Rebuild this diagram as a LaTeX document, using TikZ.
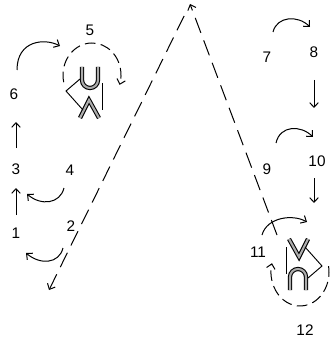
\documentclass[tikz,border=0pt]{standalone}
\usepackage{fontspec}
\setmainfont{Liberation Sans}
\usetikzlibrary{arrows.meta}

\tikzset{
  num/.style={font=\fontsize{11.5}{13}\selectfont, inner sep=0pt},
  arr/.style={line width=0.75pt, -{Straight Barb[length=3.5pt, width=6.5pt]}},
  longdash/.style={arr, dash pattern=on 12pt off 6pt},
  ring/.style={arr, dash pattern=on 8pt off 4pt},
  letterstroke/.style={draw=black, line width=0.8pt, double=gray!65, double distance=1.6pt},
  glyph/.pic={
    \draw[letterstroke] (-8,-25) -- (-8,-12) arc[start angle=180, end angle=0, radius=8] -- (8,-25);
    \draw[letterstroke] (-10,26) -- (-1,8) -- (9,26);
    \draw[line width=0.7pt] (12,-9) -- (12,18);
    \draw[line width=0.7pt] (-10,-13) -- (-24,-1) -- (-7,18);
  }
}

\begin{document}
\begin{tikzpicture}[x=0.75pt, y=-0.75pt]
\useasboundingbox (0,0) rectangle (333,342);

% numbers
\node[num] (n1) at (16,233) {1};
\node[num] (n2) at (71,226) {2};
\node[num] (n3) at (16,169) {3};
\node[num] (n4) at (70,170) {4};
\node[num] (n5) at (90,30) {5};
\node[num] (n6) at (14,94) {6};
\node[num] (n7) at (267,57) {7};
\node[num] (n8) at (314,52) {8};
\node[num] (n9) at (267,169) {9};
\node[num] (n10) at (317,161) {10};
\node[num] (n11) at (258,252) {11};
\node[num] (n12) at (305,330) {12};

% glyphs
\pic at (90,92) {glyph};
\pic[rotate=180] at (298,265) {glyph};

% left column
\draw[arr] ([shift={(0,-18)}]n1.center) -- ([shift={(0,19)}]n3.center);
\draw[arr] ([shift={(0,-21)}]n3.center) -- ([shift={(2,28)}]n6.center);
\draw[arr] ([shift={(3,-24)}]n6.center) .. controls +(0,-30) and +(-15,-8) .. ([shift={(-30,16)}]n5.center);
\draw[arr] ([shift={(-6,18)}]n4.center) .. controls +(-4,16) and +(14,12) .. ([shift={(11,25)}]n3.center);
\draw[arr] ([shift={(-8,22)}]n2.center) .. controls +(-4,16) and +(14,12) .. ([shift={(10,20)}]n1.center);

% right column
\draw[arr] ([shift={(6,-25)}]n7.center) .. controls +(4,-16) and +(-12,-12) .. ([shift={(-4,-25)}]n8.center);
\draw[arr] ([shift={(0,28)}]n8.center) -- ([shift={(-3,-53)}]n10.center);
\draw[arr] ([shift={(9,-26)}]n9.center) .. controls +(4,-18) and +(-12,-12) .. ([shift={(-4,-24)}]n10.center);
\draw[arr] ([shift={(-3,17)}]n10.center) -- ([shift={(-3,42)}]n10.center);
\draw[arr] ([shift={(4,-17)}]n11.center) .. controls +(5,-18) and +(-14,-8) .. ([shift={(49,-30)}]n11.center);

% dashed rings
\coordinate (c5) at (92,75);
\coordinate (c12) at (300,272);
\draw[ring] ([shift={(167:29 and 32)}]c5) arc[start angle=167, end angle=378, x radius=29, y radius=32];
\draw[ring] ([shift={(-10:29 and 34)}]c12) arc[start angle=-10, end angle=195, x radius=29, y radius=34];

% long dashed strokes
\coordinate (apex) at (190,4);
\coordinate (sw) at (49,290);
\coordinate (se) at (277,235);
\draw[longdash] (se) -- (apex);
\draw[longdash, shorten <=10pt] (apex) -- (sw);
\end{tikzpicture}
\end{document}
